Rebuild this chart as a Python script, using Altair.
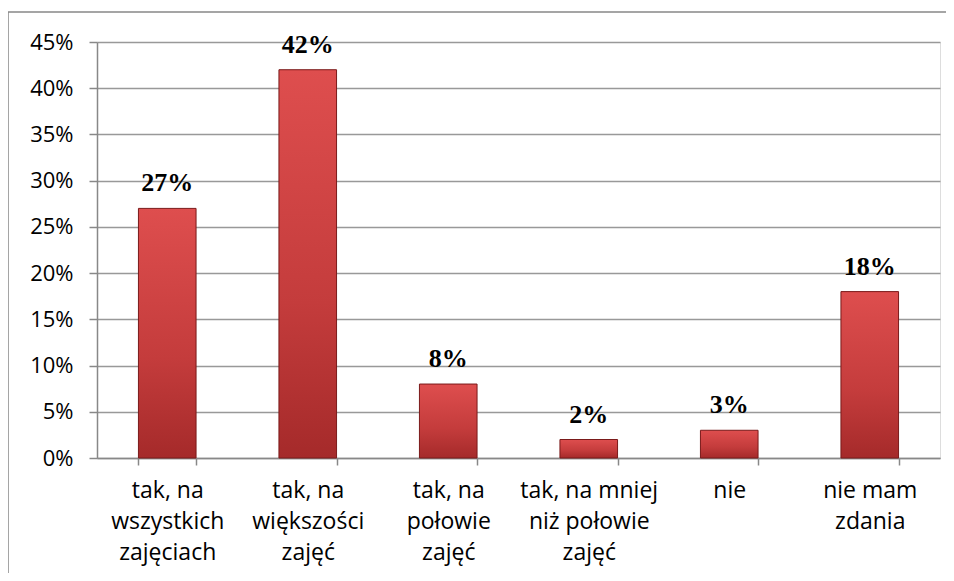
import altair as alt
import pandas as pd

categories = [
    "tak, na\nwszystkich\nzajęciach",
    "tak, na\nwiększości\nzajęć",
    "tak, na\npołowie\nzajęć",
    "tak, na mniej\nniż połowie\nzajęć",
    "nie",
    "nie mam\nzdania",
]
values = [0.27, 0.42, 0.08, 0.02, 0.03, 0.18]
labels = ["27%", "42%", "8%", "2%", "3%", "18%"]

df = pd.DataFrame({"cat": categories, "val": values, "lab": labels})

x_enc = alt.X(
    "cat:N",
    sort=categories,
    title=None,
    scale=alt.Scale(paddingInner=0.59, paddingOuter=0.295),
    axis=alt.Axis(
        labelAngle=0,
        labelExpr="split(datum.label, '\\n')",
        labelLineHeight=31,
        labelFont="Open Sans",
        labelFontSize=23,
        labelColor="black",
        labelPadding=14,
        labelBaseline="top",
        tickBand="extent",
        tickSize=7,
        tickColor="#888888",
        domainColor="#888888",
        domainWidth=1.5,
        tickWidth=1.5,
        grid=False,
    ),
)

y_enc = alt.Y(
    "val:Q",
    title=None,
    scale=alt.Scale(domain=[0, 0.45], nice=False),
    axis=alt.Axis(
        format=".0%",
        values=[0, 0.05, 0.1, 0.15, 0.2, 0.25, 0.3, 0.35, 0.4, 0.45],
        labelFont="Open Sans",
        labelFontSize=22,
        labelColor="black",
        labelPadding=16,
        tickSize=8,
        tickColor="#888888",
        tickWidth=1.5,
        domainColor="#888888",
        domainWidth=1.5,
        grid=True,
        gridColor="#999999",
        gridWidth=1.5,
    ),
)

bars = alt.Chart(df).mark_bar(
    color={
        "gradient": "linear",
        "x1": 0, "y1": 0, "x2": 0, "y2": 1,
        "stops": [
            {"offset": 0, "color": "#DE4E4E"},
            {"offset": 0.6, "color": "#C43C3C"},
            {"offset": 1, "color": "#A52A2A"},
        ],
    },
    stroke="#7A1A1A",
    strokeWidth=1,
).encode(x=x_enc, y=y_enc)

text = alt.Chart(df).mark_text(
    font="Liberation Serif",
    fontWeight="bold",
    fontSize=26,
    baseline="bottom",
    dy=-12,
    color="black",
).encode(x=alt.X("cat:N", sort=categories), y="val:Q", text="lab:N")

border = alt.Chart(pd.DataFrame({"a": [0]})).mark_rect(
    fill=None, stroke="#888888", strokeWidth=1.5
).encode(
    x=alt.value(-89), x2=alt.value(900), y=alt.value(-30), y2=alt.value(600)
)

chart = alt.layer(border, bars, text).properties(
    width=843,
    height=416,
    autosize=alt.AutoSizeParams(type="none"),
    padding={"left": 89, "top": 34, "right": 6, "bottom": 115},
).configure_view(stroke=None).configure(background="white")

chart.save("out.html", embed_options={"renderer": "svg", "actions": False})
